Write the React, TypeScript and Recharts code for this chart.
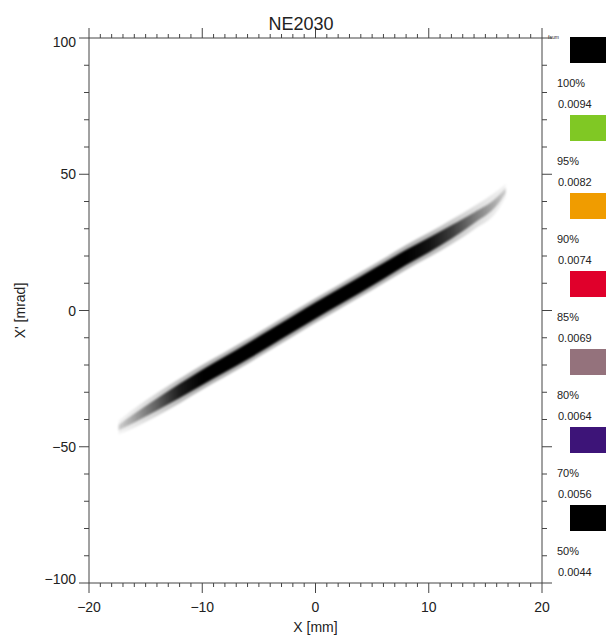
import React from 'react';
import { ComposedChart, Area, XAxis, YAxis, Label } from 'recharts';

// phase-space band (x in mm, x' in mrad)
const bandX = [-17.4, -16, -14, -12, -10, -8, -6, -4, -2, 0, 2, 4, 6, 8, 10, 12, 14, 16, 16.8];
const bandCentre = [-43, -39.5, -34.5, -29.5, -24.5, -19.8, -15, -10, -5, 0, 4.8, 9.6, 14.5, 19.5, 24, 28.8, 34, 40, 44];
const coreHalf = [1.0, 1.6, 2.2, 2.6, 2.8, 2.9, 3.0, 3.0, 3.0, 3.0, 3.0, 3.0, 2.9, 2.8, 2.7, 2.5, 2.0, 1.5, 1.0];
const haloHalf = [2.5, 3.5, 4.2, 4.5, 4.5, 4.5, 4.5, 4.5, 4.5, 4.5, 4.5, 4.5, 4.5, 4.5, 4.5, 4.5, 4.3, 3.8, 2.5];
const bandDensity = [0.15, 0.3, 0.55, 0.85, 1, 1, 1, 1, 1, 1, 1, 1, 1, 1, 0.9, 0.7, 0.45, 0.25, 0.15];

const xTicks = [-20, -19, -18, -17, -16, -15, -14, -13, -12, -11, -10, -9, -8, -7, -6, -5, -4, -3, -2, -1, 0,
  1, 2, 3, 4, 5, 6, 7, 8, 9, 10, 11, 12, 13, 14, 15, 16, 17, 18, 19, 20];
const yTicks = [-100, -90, -80, -70, -60, -50, -40, -30, -20, -10, 0, 10, 20, 30, 40, 50, 60, 70, 80, 90, 100];

const legendColors = ['#000000', '#80c824', '#f09c00', '#e0002b', '#94727c', '#3d1478', '#000000'];
const legendPercents = ['100%', '95%', '90%', '85%', '80%', '70%', '50%'];
const legendLevels = ['0.0094', '0.0082', '0.0074', '0.0069', '0.0064', '0.0056', '0.0044'];

const FONT = '"Liberation Sans", Arial, sans-serif';
const AXIS = '#444';

const rows = bandX.map((x, i) => ({
  x,
  halo: [bandCentre[i] - haloHalf[i], bandCentre[i] + haloHalf[i]],
  core: [bandCentre[i] - coreHalf[i], bandCentre[i] + coreHalf[i]],
}));

const fmt = (v: number) => (v < 0 ? '\u2212' + Math.abs(v) : String(v));

const BottomTick = (props: any) => {
  const { x, y, payload } = props;
  const major = payload.value % 10 === 0;
  return (
    <g>
      <line x1={x} y1={y} x2={x} y2={y + (major ? 10 : 4)} stroke={AXIS} />
      {major && (
        <text x={x} y={y + 29} textAnchor="middle" fontSize={14} fontFamily={FONT} fill="#222">
          {fmt(payload.value)}
        </text>
      )}
    </g>
  );
};

const TopTick = (props: any) => {
  const { x, y, payload } = props;
  const major = payload.value % 10 === 0;
  return <line x1={x} y1={y} x2={x} y2={y - (major ? 10 : 4)} stroke={AXIS} />;
};

const LeftTick = (props: any) => {
  const { x, y, payload } = props;
  const major = payload.value % 50 === 0;
  let shift = 0;
  if (payload.value === 100) shift = 4;
  if (payload.value === -100) shift = -4;
  return (
    <g>
      <line x1={x} y1={y} x2={x - (major ? 10 : 5)} y2={y} stroke={AXIS} />
      {major && (
        <text x={x - 13} y={y + shift + 5} textAnchor="end" fontSize={14} fontFamily={FONT} fill="#222">
          {fmt(payload.value)}
        </text>
      )}
    </g>
  );
};

const RightTick = (props: any) => {
  const { x, y, payload } = props;
  const major = payload.value % 50 === 0;
  return <line x1={x} y1={y} x2={x + (major ? 10 : 5)} y2={y} stroke={AXIS} />;
};

const span = bandX[bandX.length - 1] - bandX[0];

export default function App() {
  return (
    <div style={{ position: 'absolute', left: 0, top: 0, width: 606, height: 637, background: '#fff' }}>
      <ComposedChart width={606} height={637} data={rows} margin={{ top: 0, right: 0, bottom: 0, left: 0 }}>
        <defs>
          <linearGradient id="coreFill" x1="0" y1="0" x2="1" y2="0">
            {bandX.map((v, i) => (
              <stop key={i} offset={(v - bandX[0]) / span} stopColor="#000" stopOpacity={bandDensity[i]} />
            ))}
          </linearGradient>
          <linearGradient id="haloFill" x1="0" y1="0" x2="1" y2="0">
            {bandX.map((v, i) => (
              <stop key={i} offset={(v - bandX[0]) / span} stopColor="#000" stopOpacity={bandDensity[i] * 0.3} />
            ))}
          </linearGradient>
          <filter id="soft" x="-10%" y="-10%" width="120%" height="120%">
            <feGaussianBlur stdDeviation="1" />
          </filter>
        </defs>
        <XAxis
          type="number"
          dataKey="x"
          domain={[-20, 20]}
          allowDataOverflow
          ticks={xTicks}
          interval={0}
          height={54}
          tickSize={0}
          tickMargin={0}
          tick={<BottomTick />}
          axisLine={{ stroke: AXIS }}
          tickLine={false}
        >
          <Label value="X [mm]" position="insideBottom" offset={5} style={{ fontFamily: FONT, fontSize: 14, fill: '#222' }} />
        </XAxis>
        <XAxis
          xAxisId="top"
          orientation="top"
          type="number"
          dataKey="x"
          domain={[-20, 20]}
          allowDataOverflow
          ticks={xTicks}
          interval={0}
          height={38}
          tickSize={0}
          tickMargin={0}
          tick={<TopTick />}
          axisLine={{ stroke: AXIS }}
          tickLine={false}
        />
        <YAxis
          type="number"
          domain={[-100, 100]}
          allowDataOverflow
          ticks={yTicks}
          interval={0}
          width={89}
          tickSize={0}
          tickMargin={0}
          tick={<LeftTick />}
          axisLine={{ stroke: AXIS }}
          tickLine={false}
        >
          <Label
            value="X' [mrad]"
            angle={-90}
            position="insideLeft"
            offset={20}
            style={{ textAnchor: 'middle', fontFamily: FONT, fontSize: 14, fill: '#222' }}
          />
        </YAxis>
        <YAxis
          yAxisId="right"
          orientation="right"
          type="number"
          domain={[-100, 100]}
          allowDataOverflow
          ticks={yTicks}
          interval={0}
          width={64}
          tickSize={0}
          tickMargin={0}
          tick={<RightTick />}
          axisLine={{ stroke: AXIS }}
          tickLine={false}
        />
        <Area
          dataKey="halo"
          type="monotone"
          stroke="none"
          fill="url(#haloFill)"
          fillOpacity={1}
          filter="url(#soft)"
          isAnimationActive={false}
        />
        <Area
          dataKey="core"
          type="monotone"
          stroke="none"
          fill="url(#coreFill)"
          fillOpacity={1}
          filter="url(#soft)"
          isAnimationActive={false}
        />
      </ComposedChart>
      <svg width={606} height={637} style={{ position: 'absolute', left: 0, top: 0, pointerEvents: 'none' }}>
        <text x={301} y={30} textAnchor="middle" fontSize={18} fontFamily={FONT} fill="#222">
          NE2030
        </text>
        <text x={548} y={39} fontSize={5} fontFamily={FONT} fill="#222">
          fsum
        </text>
        {legendColors.map((c, i) => (
          <g key={i}>
            <rect x={570} y={37 + 78 * i} width={36} height={26} fill={c} />
            <text x={557} y={87 + 78 * i} fontSize={11} fontFamily={FONT} fill="#222">
              {legendPercents[i]}
            </text>
            <text x={558} y={108 + 78 * i} fontSize={11} fontFamily={FONT} fill="#222">
              {legendLevels[i]}
            </text>
          </g>
        ))}
      </svg>
    </div>
  );
}
